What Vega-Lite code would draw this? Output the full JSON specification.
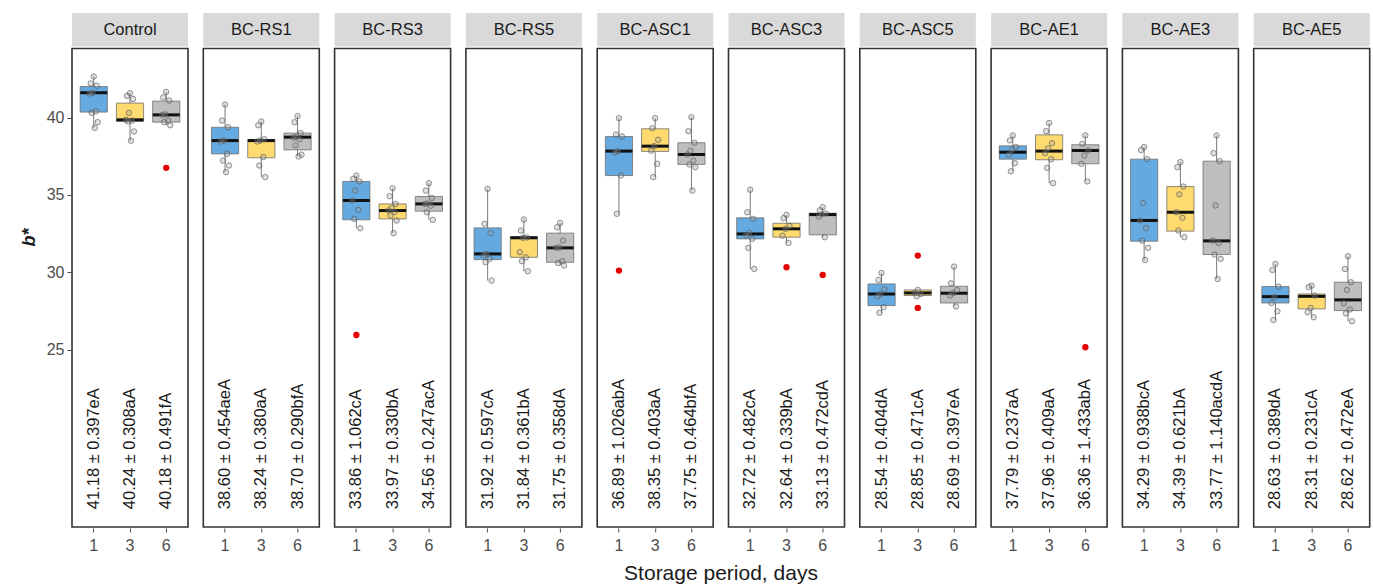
{
"$schema":"https://vega.github.io/schema/vega-lite/v6.json",
"padding":{"left":20,"top":13,"right":2,"bottom":2},
"background":"white",
"data":{"values":[
{"k":"b","t":"Control","d":"1","lo":39.33,"q1":40.35,"m":41.6,"q3":42.0,"hi":42.65,"lab":"41.18 ± 0.397eA"},
{"k":"b","t":"Control","d":"3","lo":38.5,"q1":39.75,"m":39.85,"q3":40.93,"hi":41.57,"lab":"40.24 ± 0.308aA"},
{"k":"b","t":"Control","d":"6","lo":39.5,"q1":39.7,"m":40.17,"q3":41.06,"hi":41.65,"lab":"40.18 ± 0.491fA"},
{"k":"b","t":"BC-RS1","d":"1","lo":36.47,"q1":37.65,"m":38.51,"q3":39.37,"hi":40.84,"lab":"38.60 ± 0.454aeA"},
{"k":"b","t":"BC-RS1","d":"3","lo":36.15,"q1":37.4,"m":38.51,"q3":38.58,"hi":39.74,"lab":"38.24 ± 0.380aA"},
{"k":"b","t":"BC-RS1","d":"6","lo":37.48,"q1":37.91,"m":38.73,"q3":38.99,"hi":40.09,"lab":"38.70 ± 0.290bfA"},
{"k":"b","t":"BC-RS3","d":"1","lo":32.85,"q1":33.39,"m":34.64,"q3":35.87,"hi":36.25,"lab":"33.86 ± 1.062cA"},
{"k":"b","t":"BC-RS3","d":"3","lo":32.53,"q1":33.45,"m":33.99,"q3":34.42,"hi":35.43,"lab":"33.97 ± 0.330bA"},
{"k":"b","t":"BC-RS3","d":"6","lo":33.39,"q1":33.95,"m":34.42,"q3":34.9,"hi":35.76,"lab":"34.56 ± 0.247acA"},
{"k":"b","t":"BC-RS5","d":"1","lo":29.47,"q1":30.82,"m":31.19,"q3":32.87,"hi":35.39,"lab":"31.92 ± 0.597cA"},
{"k":"b","t":"BC-RS5","d":"3","lo":30.07,"q1":30.97,"m":32.23,"q3":32.31,"hi":33.41,"lab":"31.84 ± 0.361bA"},
{"k":"b","t":"BC-RS5","d":"6","lo":30.44,"q1":30.65,"m":31.58,"q3":32.53,"hi":33.19,"lab":"31.75 ± 0.358dA"},
{"k":"b","t":"BC-ASC1","d":"1","lo":33.78,"q1":36.25,"m":37.83,"q3":38.77,"hi":39.96,"lab":"36.89 ± 1.026abA"},
{"k":"b","t":"BC-ASC1","d":"3","lo":36.15,"q1":37.81,"m":38.15,"q3":39.27,"hi":39.96,"lab":"38.35 ± 0.403aA"},
{"k":"b","t":"BC-ASC1","d":"6","lo":35.28,"q1":36.97,"m":37.61,"q3":38.37,"hi":40.02,"lab":"37.75 ± 0.464bfA"},
{"k":"b","t":"BC-ASC3","d":"1","lo":30.22,"q1":32.16,"m":32.48,"q3":33.52,"hi":35.33,"lab":"32.72 ± 0.482cA"},
{"k":"b","t":"BC-ASC3","d":"3","lo":31.9,"q1":32.27,"m":32.81,"q3":33.17,"hi":33.71,"lab":"32.64 ± 0.339bA"},
{"k":"b","t":"BC-ASC3","d":"6","lo":32.27,"q1":32.42,"m":33.73,"q3":33.82,"hi":34.21,"lab":"33.13 ± 0.472cdA"},
{"k":"b","t":"BC-ASC5","d":"1","lo":27.38,"q1":27.85,"m":28.6,"q3":29.25,"hi":29.96,"lab":"28.54 ± 0.404dA"},
{"k":"b","t":"BC-ASC5","d":"3","lo":28.45,"q1":28.5,"m":28.67,"q3":28.86,"hi":28.9,"lab":"28.85 ± 0.471cA"},
{"k":"b","t":"BC-ASC5","d":"6","lo":27.79,"q1":28.02,"m":28.65,"q3":29.1,"hi":30.37,"lab":"28.69 ± 0.397eA"},
{"k":"b","t":"BC-AE1","d":"1","lo":36.53,"q1":37.31,"m":37.76,"q3":38.17,"hi":38.84,"lab":"37.79 ± 0.237aA"},
{"k":"b","t":"BC-AE1","d":"3","lo":35.76,"q1":37.27,"m":37.83,"q3":38.88,"hi":39.64,"lab":"37.96 ± 0.409aA"},
{"k":"b","t":"BC-AE1","d":"6","lo":35.87,"q1":37.01,"m":37.87,"q3":38.24,"hi":38.84,"lab":"36.36 ± 1.433abA"},
{"k":"b","t":"BC-AE3","d":"1","lo":30.8,"q1":32.01,"m":33.35,"q3":37.31,"hi":38.09,"lab":"34.29 ± 0.938bcA"},
{"k":"b","t":"BC-AE3","d":"3","lo":32.27,"q1":32.66,"m":33.88,"q3":35.54,"hi":37.12,"lab":"34.39 ± 0.621bA"},
{"k":"b","t":"BC-AE3","d":"6","lo":29.57,"q1":31.15,"m":32.03,"q3":37.18,"hi":38.84,"lab":"33.77 ± 1.140acdA"},
{"k":"b","t":"BC-AE5","d":"1","lo":26.92,"q1":28.02,"m":28.43,"q3":29.08,"hi":30.54,"lab":"28.63 ± 0.389dA"},
{"k":"b","t":"BC-AE5","d":"3","lo":27.1,"q1":27.64,"m":28.45,"q3":28.6,"hi":29.14,"lab":"28.31 ± 0.231cA"},
{"k":"b","t":"BC-AE5","d":"6","lo":26.84,"q1":27.53,"m":28.22,"q3":29.36,"hi":31.04,"lab":"28.62 ± 0.472eA"},
{"k":"o","t":"Control","d":"6","v":36.75},
{"k":"o","t":"BC-RS3","d":"1","v":25.95},
{"k":"o","t":"BC-ASC1","d":"1","v":30.11},
{"k":"o","t":"BC-ASC3","d":"3","v":30.33},
{"k":"o","t":"BC-ASC3","d":"6","v":29.83},
{"k":"o","t":"BC-ASC5","d":"3","v":31.08},
{"k":"o","t":"BC-ASC5","d":"3","v":27.7},
{"k":"o","t":"BC-AE1","d":"6","v":25.16},
{"k":"p","t":"Control","d":"1","v":42.65,"r":5},{"k":"p","t":"Control","d":"1","v":42.2,"r":2},{"k":"p","t":"Control","d":"1","v":42.05,"r":8},{"k":"p","t":"Control","d":"1","v":41.6,"r":4},{"k":"p","t":"Control","d":"1","v":41.55,"r":1},{"k":"p","t":"Control","d":"1","v":40.4,"r":7},{"k":"p","t":"Control","d":"1","v":40.3,"r":3},{"k":"p","t":"Control","d":"1","v":39.7,"r":9},{"k":"p","t":"Control","d":"1","v":39.33,"r":6},
{"k":"p","t":"Control","d":"3","v":41.57,"r":5},{"k":"p","t":"Control","d":"3","v":41.4,"r":2},{"k":"p","t":"Control","d":"3","v":41.2,"r":8},{"k":"p","t":"Control","d":"3","v":40.3,"r":4},{"k":"p","t":"Control","d":"3","v":39.85,"r":1},{"k":"p","t":"Control","d":"3","v":39.8,"r":7},{"k":"p","t":"Control","d":"3","v":39.75,"r":3},{"k":"p","t":"Control","d":"3","v":39.1,"r":9},{"k":"p","t":"Control","d":"3","v":38.5,"r":6},
{"k":"p","t":"Control","d":"6","v":41.65,"r":5},{"k":"p","t":"Control","d":"6","v":41.3,"r":2},{"k":"p","t":"Control","d":"6","v":41.1,"r":8},{"k":"p","t":"Control","d":"6","v":40.2,"r":4},{"k":"p","t":"Control","d":"6","v":40.17,"r":1},{"k":"p","t":"Control","d":"6","v":39.8,"r":7},{"k":"p","t":"Control","d":"6","v":39.7,"r":3},{"k":"p","t":"Control","d":"6","v":39.5,"r":9},
{"k":"p","t":"BC-RS1","d":"1","v":40.84,"r":5},{"k":"p","t":"BC-RS1","d":"1","v":39.8,"r":2},{"k":"p","t":"BC-RS1","d":"1","v":39.37,"r":8},{"k":"p","t":"BC-RS1","d":"1","v":38.51,"r":4},{"k":"p","t":"BC-RS1","d":"1","v":38.45,"r":1},{"k":"p","t":"BC-RS1","d":"1","v":37.65,"r":7},{"k":"p","t":"BC-RS1","d":"1","v":37.22,"r":3},{"k":"p","t":"BC-RS1","d":"1","v":36.9,"r":9},{"k":"p","t":"BC-RS1","d":"1","v":36.47,"r":6},
{"k":"p","t":"BC-RS1","d":"3","v":39.74,"r":5},{"k":"p","t":"BC-RS1","d":"3","v":39.5,"r":2},{"k":"p","t":"BC-RS1","d":"3","v":38.6,"r":8},{"k":"p","t":"BC-RS1","d":"3","v":38.51,"r":4},{"k":"p","t":"BC-RS1","d":"3","v":38.45,"r":1},{"k":"p","t":"BC-RS1","d":"3","v":37.45,"r":7},{"k":"p","t":"BC-RS1","d":"3","v":36.9,"r":3},{"k":"p","t":"BC-RS1","d":"3","v":36.15,"r":9},
{"k":"p","t":"BC-RS1","d":"6","v":40.09,"r":5},{"k":"p","t":"BC-RS1","d":"6","v":39.7,"r":2},{"k":"p","t":"BC-RS1","d":"6","v":39.0,"r":8},{"k":"p","t":"BC-RS1","d":"6","v":38.75,"r":4},{"k":"p","t":"BC-RS1","d":"6","v":38.7,"r":1},{"k":"p","t":"BC-RS1","d":"6","v":38.6,"r":7},{"k":"p","t":"BC-RS1","d":"6","v":38.2,"r":3},{"k":"p","t":"BC-RS1","d":"6","v":37.6,"r":9},{"k":"p","t":"BC-RS1","d":"6","v":37.48,"r":6},
{"k":"p","t":"BC-RS3","d":"1","v":36.25,"r":5},{"k":"p","t":"BC-RS3","d":"1","v":36.04,"r":2},{"k":"p","t":"BC-RS3","d":"1","v":35.87,"r":8},{"k":"p","t":"BC-RS3","d":"1","v":35.28,"r":4},{"k":"p","t":"BC-RS3","d":"1","v":34.64,"r":1},{"k":"p","t":"BC-RS3","d":"1","v":34.03,"r":7},{"k":"p","t":"BC-RS3","d":"1","v":33.45,"r":3},{"k":"p","t":"BC-RS3","d":"1","v":32.85,"r":9},
{"k":"p","t":"BC-RS3","d":"3","v":35.43,"r":5},{"k":"p","t":"BC-RS3","d":"3","v":34.92,"r":2},{"k":"p","t":"BC-RS3","d":"3","v":34.42,"r":8},{"k":"p","t":"BC-RS3","d":"3","v":34.16,"r":4},{"k":"p","t":"BC-RS3","d":"3","v":33.99,"r":1},{"k":"p","t":"BC-RS3","d":"3","v":33.9,"r":7},{"k":"p","t":"BC-RS3","d":"3","v":33.67,"r":3},{"k":"p","t":"BC-RS3","d":"3","v":33.35,"r":9},{"k":"p","t":"BC-RS3","d":"3","v":32.53,"r":6},
{"k":"p","t":"BC-RS3","d":"6","v":35.76,"r":5},{"k":"p","t":"BC-RS3","d":"6","v":35.28,"r":2},{"k":"p","t":"BC-RS3","d":"6","v":34.8,"r":8},{"k":"p","t":"BC-RS3","d":"6","v":34.45,"r":4},{"k":"p","t":"BC-RS3","d":"6","v":34.42,"r":1},{"k":"p","t":"BC-RS3","d":"6","v":34.3,"r":7},{"k":"p","t":"BC-RS3","d":"6","v":33.88,"r":3},{"k":"p","t":"BC-RS3","d":"6","v":33.39,"r":9},
{"k":"p","t":"BC-RS5","d":"1","v":35.39,"r":5},{"k":"p","t":"BC-RS5","d":"1","v":33.13,"r":2},{"k":"p","t":"BC-RS5","d":"1","v":32.53,"r":8},{"k":"p","t":"BC-RS5","d":"1","v":31.19,"r":4},{"k":"p","t":"BC-RS5","d":"1","v":31.1,"r":1},{"k":"p","t":"BC-RS5","d":"1","v":30.87,"r":7},{"k":"p","t":"BC-RS5","d":"1","v":30.65,"r":3},{"k":"p","t":"BC-RS5","d":"1","v":29.47,"r":9},
{"k":"p","t":"BC-RS5","d":"3","v":33.41,"r":5},{"k":"p","t":"BC-RS5","d":"3","v":32.7,"r":2},{"k":"p","t":"BC-RS5","d":"3","v":32.25,"r":8},{"k":"p","t":"BC-RS5","d":"3","v":32.23,"r":4},{"k":"p","t":"BC-RS5","d":"3","v":31.3,"r":1},{"k":"p","t":"BC-RS5","d":"3","v":30.97,"r":7},{"k":"p","t":"BC-RS5","d":"3","v":30.72,"r":3},{"k":"p","t":"BC-RS5","d":"3","v":30.07,"r":9},
{"k":"p","t":"BC-RS5","d":"6","v":33.19,"r":5},{"k":"p","t":"BC-RS5","d":"6","v":32.91,"r":2},{"k":"p","t":"BC-RS5","d":"6","v":32.05,"r":8},{"k":"p","t":"BC-RS5","d":"6","v":31.6,"r":4},{"k":"p","t":"BC-RS5","d":"6","v":31.58,"r":1},{"k":"p","t":"BC-RS5","d":"6","v":30.72,"r":7},{"k":"p","t":"BC-RS5","d":"6","v":30.6,"r":3},{"k":"p","t":"BC-RS5","d":"6","v":30.44,"r":9},
{"k":"p","t":"BC-ASC1","d":"1","v":39.96,"r":5},{"k":"p","t":"BC-ASC1","d":"1","v":38.9,"r":2},{"k":"p","t":"BC-ASC1","d":"1","v":38.77,"r":8},{"k":"p","t":"BC-ASC1","d":"1","v":37.83,"r":4},{"k":"p","t":"BC-ASC1","d":"1","v":37.75,"r":1},{"k":"p","t":"BC-ASC1","d":"1","v":36.25,"r":7},{"k":"p","t":"BC-ASC1","d":"1","v":33.78,"r":3},
{"k":"p","t":"BC-ASC1","d":"3","v":39.96,"r":5},{"k":"p","t":"BC-ASC1","d":"3","v":39.3,"r":2},{"k":"p","t":"BC-ASC1","d":"3","v":38.56,"r":8},{"k":"p","t":"BC-ASC1","d":"3","v":38.15,"r":4},{"k":"p","t":"BC-ASC1","d":"3","v":37.85,"r":1},{"k":"p","t":"BC-ASC1","d":"3","v":37.01,"r":7},{"k":"p","t":"BC-ASC1","d":"3","v":36.15,"r":3},
{"k":"p","t":"BC-ASC1","d":"6","v":40.02,"r":5},{"k":"p","t":"BC-ASC1","d":"6","v":39.12,"r":2},{"k":"p","t":"BC-ASC1","d":"6","v":38.37,"r":8},{"k":"p","t":"BC-ASC1","d":"6","v":37.85,"r":4},{"k":"p","t":"BC-ASC1","d":"6","v":37.61,"r":1},{"k":"p","t":"BC-ASC1","d":"6","v":37.22,"r":7},{"k":"p","t":"BC-ASC1","d":"6","v":36.97,"r":3},{"k":"p","t":"BC-ASC1","d":"6","v":36.79,"r":9},{"k":"p","t":"BC-ASC1","d":"6","v":35.28,"r":6},
{"k":"p","t":"BC-ASC3","d":"1","v":35.33,"r":5},{"k":"p","t":"BC-ASC3","d":"1","v":33.88,"r":2},{"k":"p","t":"BC-ASC3","d":"1","v":33.45,"r":8},{"k":"p","t":"BC-ASC3","d":"1","v":32.55,"r":4},{"k":"p","t":"BC-ASC3","d":"1","v":32.4,"r":1},{"k":"p","t":"BC-ASC3","d":"1","v":32.16,"r":7},{"k":"p","t":"BC-ASC3","d":"1","v":31.58,"r":3},{"k":"p","t":"BC-ASC3","d":"1","v":30.22,"r":9},
{"k":"p","t":"BC-ASC3","d":"3","v":33.71,"r":5},{"k":"p","t":"BC-ASC3","d":"3","v":33.5,"r":2},{"k":"p","t":"BC-ASC3","d":"3","v":33.0,"r":8},{"k":"p","t":"BC-ASC3","d":"3","v":32.81,"r":4},{"k":"p","t":"BC-ASC3","d":"3","v":32.37,"r":1},{"k":"p","t":"BC-ASC3","d":"3","v":31.9,"r":7},
{"k":"p","t":"BC-ASC3","d":"6","v":34.21,"r":5},{"k":"p","t":"BC-ASC3","d":"6","v":34.0,"r":2},{"k":"p","t":"BC-ASC3","d":"6","v":33.8,"r":8},{"k":"p","t":"BC-ASC3","d":"6","v":33.73,"r":4},{"k":"p","t":"BC-ASC3","d":"6","v":33.6,"r":1},{"k":"p","t":"BC-ASC3","d":"6","v":32.27,"r":7},
{"k":"p","t":"BC-ASC5","d":"1","v":29.96,"r":5},{"k":"p","t":"BC-ASC5","d":"1","v":29.51,"r":2},{"k":"p","t":"BC-ASC5","d":"1","v":28.9,"r":8},{"k":"p","t":"BC-ASC5","d":"1","v":28.6,"r":4},{"k":"p","t":"BC-ASC5","d":"1","v":28.45,"r":1},{"k":"p","t":"BC-ASC5","d":"1","v":27.74,"r":7},{"k":"p","t":"BC-ASC5","d":"1","v":27.38,"r":3},
{"k":"p","t":"BC-ASC5","d":"3","v":28.86,"r":5},{"k":"p","t":"BC-ASC5","d":"3","v":28.67,"r":2},{"k":"p","t":"BC-ASC5","d":"3","v":28.6,"r":8},{"k":"p","t":"BC-ASC5","d":"3","v":28.45,"r":4},
{"k":"p","t":"BC-ASC5","d":"6","v":30.37,"r":5},{"k":"p","t":"BC-ASC5","d":"6","v":29.29,"r":2},{"k":"p","t":"BC-ASC5","d":"6","v":28.85,"r":8},{"k":"p","t":"BC-ASC5","d":"6","v":28.65,"r":4},{"k":"p","t":"BC-ASC5","d":"6","v":28.5,"r":1},{"k":"p","t":"BC-ASC5","d":"6","v":27.79,"r":7},
{"k":"p","t":"BC-AE1","d":"1","v":38.84,"r":5},{"k":"p","t":"BC-AE1","d":"1","v":38.52,"r":2},{"k":"p","t":"BC-AE1","d":"1","v":38.1,"r":8},{"k":"p","t":"BC-AE1","d":"1","v":37.9,"r":4},{"k":"p","t":"BC-AE1","d":"1","v":37.6,"r":1},{"k":"p","t":"BC-AE1","d":"1","v":37.05,"r":7},{"k":"p","t":"BC-AE1","d":"1","v":36.53,"r":3},
{"k":"p","t":"BC-AE1","d":"3","v":39.64,"r":5},{"k":"p","t":"BC-AE1","d":"3","v":39.12,"r":2},{"k":"p","t":"BC-AE1","d":"3","v":38.34,"r":8},{"k":"p","t":"BC-AE1","d":"3","v":38.0,"r":4},{"k":"p","t":"BC-AE1","d":"3","v":37.7,"r":1},{"k":"p","t":"BC-AE1","d":"3","v":37.3,"r":7},{"k":"p","t":"BC-AE1","d":"3","v":36.75,"r":3},{"k":"p","t":"BC-AE1","d":"3","v":35.76,"r":9},
{"k":"p","t":"BC-AE1","d":"6","v":38.84,"r":5},{"k":"p","t":"BC-AE1","d":"6","v":38.3,"r":2},{"k":"p","t":"BC-AE1","d":"6","v":37.87,"r":8},{"k":"p","t":"BC-AE1","d":"6","v":37.55,"r":4},{"k":"p","t":"BC-AE1","d":"6","v":37.01,"r":1},{"k":"p","t":"BC-AE1","d":"6","v":35.87,"r":7},
{"k":"p","t":"BC-AE3","d":"1","v":38.09,"r":5},{"k":"p","t":"BC-AE3","d":"1","v":37.9,"r":2},{"k":"p","t":"BC-AE3","d":"1","v":37.31,"r":8},{"k":"p","t":"BC-AE3","d":"1","v":34.47,"r":4},{"k":"p","t":"BC-AE3","d":"1","v":33.35,"r":1},{"k":"p","t":"BC-AE3","d":"1","v":32.85,"r":7},{"k":"p","t":"BC-AE3","d":"1","v":32.05,"r":3},{"k":"p","t":"BC-AE3","d":"1","v":31.58,"r":9},{"k":"p","t":"BC-AE3","d":"1","v":30.8,"r":6},
{"k":"p","t":"BC-AE3","d":"3","v":37.12,"r":5},{"k":"p","t":"BC-AE3","d":"3","v":36.79,"r":2},{"k":"p","t":"BC-AE3","d":"3","v":35.54,"r":8},{"k":"p","t":"BC-AE3","d":"3","v":35.03,"r":4},{"k":"p","t":"BC-AE3","d":"3","v":33.88,"r":1},{"k":"p","t":"BC-AE3","d":"3","v":33.52,"r":7},{"k":"p","t":"BC-AE3","d":"3","v":32.7,"r":3},{"k":"p","t":"BC-AE3","d":"3","v":32.27,"r":9},
{"k":"p","t":"BC-AE3","d":"6","v":38.84,"r":5},{"k":"p","t":"BC-AE3","d":"6","v":37.7,"r":2},{"k":"p","t":"BC-AE3","d":"6","v":37.18,"r":8},{"k":"p","t":"BC-AE3","d":"6","v":34.32,"r":4},{"k":"p","t":"BC-AE3","d":"6","v":32.05,"r":1},{"k":"p","t":"BC-AE3","d":"6","v":31.9,"r":7},{"k":"p","t":"BC-AE3","d":"6","v":31.15,"r":3},{"k":"p","t":"BC-AE3","d":"6","v":30.87,"r":9},{"k":"p","t":"BC-AE3","d":"6","v":29.57,"r":6},
{"k":"p","t":"BC-AE5","d":"1","v":30.54,"r":5},{"k":"p","t":"BC-AE5","d":"1","v":30.15,"r":2},{"k":"p","t":"BC-AE5","d":"1","v":29.08,"r":8},{"k":"p","t":"BC-AE5","d":"1","v":28.4,"r":4},{"k":"p","t":"BC-AE5","d":"1","v":28.02,"r":1},{"k":"p","t":"BC-AE5","d":"1","v":27.48,"r":7},{"k":"p","t":"BC-AE5","d":"1","v":26.92,"r":3},
{"k":"p","t":"BC-AE5","d":"3","v":29.14,"r":5},{"k":"p","t":"BC-AE5","d":"3","v":29.05,"r":2},{"k":"p","t":"BC-AE5","d":"3","v":28.5,"r":8},{"k":"p","t":"BC-AE5","d":"3","v":27.7,"r":4},{"k":"p","t":"BC-AE5","d":"3","v":27.42,"r":1},{"k":"p","t":"BC-AE5","d":"3","v":27.1,"r":7},
{"k":"p","t":"BC-AE5","d":"6","v":31.04,"r":5},{"k":"p","t":"BC-AE5","d":"6","v":30.22,"r":2},{"k":"p","t":"BC-AE5","d":"6","v":29.36,"r":8},{"k":"p","t":"BC-AE5","d":"6","v":28.86,"r":4},{"k":"p","t":"BC-AE5","d":"6","v":28.0,"r":1},{"k":"p","t":"BC-AE5","d":"6","v":27.6,"r":7},{"k":"p","t":"BC-AE5","d":"6","v":27.35,"r":3},{"k":"p","t":"BC-AE5","d":"6","v":26.84,"r":9}
]},
"facet":{"column":{"field":"t","type":"nominal","sort":["Control","BC-RS1","BC-RS3","BC-RS5","BC-ASC1","BC-ASC3","BC-ASC5","BC-AE1","BC-AE3","BC-AE5"],
  "header":{"labels":false,"title":"Storage period, days","titleOrient":"bottom","titleFontSize":21,"titleFontWeight":"normal","titleFont":"Liberation Sans","titleColor":"#1a1a1a","titlePadding":0}}},
"spacing":13.3,
"spec":{
 "width":116,"height":514,
 "layer":[
  {"transform":[{"filter":"datum.k == 'b'"}],
   "mark":{"type":"rule","color":"#7a7a7a","strokeWidth":1},
   "encoding":{
     "x":{"field":"d","type":"nominal","title":null,"scale":{"paddingInner":0,"paddingOuter":0.1}},
     "y":{"field":"lo","type":"quantitative","title":"b*","scale":{"domain":[13.55,46.75],"nice":false,"zero":false},"axis":{"values":[25,30,35,40]}},
     "y2":{"field":"hi"}}},
  {"transform":[{"filter":"datum.k == 'b'"}],
   "mark":{"type":"rect","stroke":"#6e6e6e","strokeWidth":0.8},
   "encoding":{
     "x":{"field":"d","type":"nominal","title":null,"bandPosition":0.125},
     "x2":{"field":"d","bandPosition":0.875},
     "y":{"field":"q1","type":"quantitative","title":"b*"},
     "y2":{"field":"q3"},
     "color":{"field":"d","type":"nominal","legend":null,"scale":{"domain":["1","3","6"],"range":["#64AAE1","#FFDA6E","#BEBEBE"]}}}},
  {"transform":[{"filter":"datum.k == 'b'"}],
   "mark":{"type":"tick","color":"#111111","thickness":3,"size":27,"opacity":1},
   "encoding":{
     "x":{"field":"d","type":"nominal","title":null},
     "y":{"field":"m","type":"quantitative","title":"b*"}}},
  {"transform":[{"filter":"datum.k == 'p'"}],
   "mark":{"type":"point","shape":"circle","size":30,"fill":"#9a9a9a","fillOpacity":0.3,"stroke":"#555555","strokeOpacity":0.6,"strokeWidth":1},
   "encoding":{
     "x":{"field":"d","type":"nominal","title":null},
     "xOffset":{"field":"r","type":"nominal","scale":{"type":"point","range":[13.6,22.6]}},
     "y":{"field":"v","type":"quantitative","title":"b*"}}},
  {"transform":[{"filter":"datum.k == 'o'"}],
   "mark":{"type":"circle","color":"#E60000","size":40,"opacity":1},
   "encoding":{
     "x":{"field":"d","type":"nominal","title":null},
     "y":{"field":"v","type":"quantitative","title":"b*"}}},
  {"transform":[{"filter":"datum.k == 'b'"}],
   "mark":{"type":"text","angle":270,"align":"left","baseline":"middle","fontSize":16.5,"font":"Liberation Sans","color":"#1a1a1a"},
   "encoding":{
     "x":{"field":"d","type":"nominal","title":null},
     "y":{"datum":14.7,"type":"quantitative","title":"b*"},
     "text":{"field":"lab"}}},
  {"transform":[{"filter":"datum.k == 'b' && datum.d == '1'"}],
   "mark":{"type":"rect","color":"#D9D9D9"},
   "encoding":{
     "y":{"datum":44.58,"type":"quantitative","title":"b*"},
     "y2":{"datum":46.75}}},
  {"transform":[{"filter":"datum.k == 'b' && datum.d == '1'"}],
   "mark":{"type":"text","fontSize":16.5,"font":"Liberation Sans","color":"#1a1a1a","baseline":"middle","align":"center"},
   "encoding":{
     "x":{"datum":"3","type":"nominal","bandPosition":0.5,"title":null},
     "y":{"datum":45.66,"type":"quantitative","title":"b*"},
     "text":{"field":"t"}}},
  {"transform":[{"filter":"datum.k == 'b' && datum.d == '1'"}],
   "mark":{"type":"rect","fillOpacity":0,"stroke":"#333333","strokeWidth":1.6},
   "encoding":{
     "y":{"datum":13.55,"type":"quantitative","title":"b*"},
     "y2":{"datum":44.46}}}
 ]},
"config":{
 "view":{"stroke":null},
 "font":"Liberation Sans",
 "axis":{"grid":false,"domain":false,"labelFont":"Liberation Sans","labelFontSize":16,"labelColor":"#4d4d4d","tickColor":"#4d4d4d","tickSize":4,"tickWidth":1},
 "axisY":{"titleFont":"Liberation Sans","titleFontSize":18,"titleFontStyle":"italic","titleFontWeight":"bold","titleColor":"#1a1a1a","titleX":-42,"titleY":224,"titleAngle":270,"titleAlign":"center","titleBaseline":"middle","labelPadding":3},
 "axisX":{"labelAngle":0,"labelPadding":5}
}
}
